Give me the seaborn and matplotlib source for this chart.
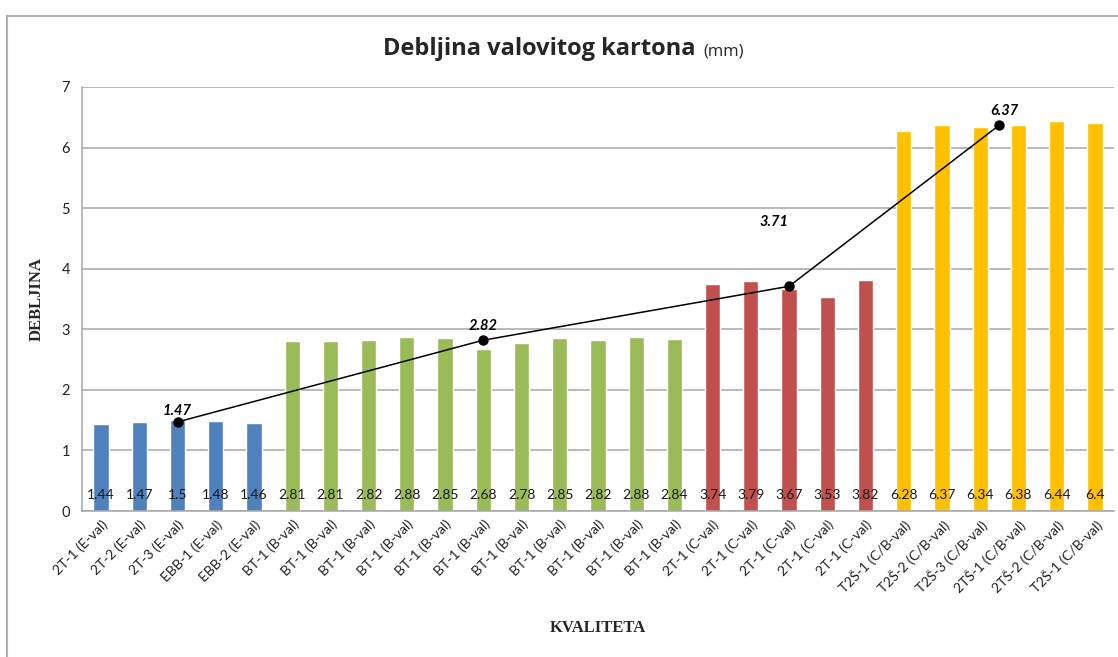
#!/usr/bin/env python3
# -*- coding: utf-8 -*-

"""Debljina valovitog kartona - stupci po kvaliteti i prosjek po grupi."""

import pandas as pd
import matplotlib.pyplot as plt
import seaborn as sns
from matplotlib.patches import Rectangle

# podaci
kvalitete = [
    "2T-1 (E-val)", "2T-2 (E-val)", "2T-3 (E-val)", "EBB-1 (E-val)", "EBB-2 (E-val)",
    "BT-1 (B-val)", "BT-1 (B-val) ", "BT-1 (B-val)  ", "BT-1 (B-val)   ", "BT-1 (B-val)    ",
    "BT-1 (B-val)     ", "BT-1 (B-val)      ", "BT-1 (B-val)       ", "BT-1 (B-val)        ",
    "BT-1 (B-val)         ", "BT-1 (B-val)          ",
    "2T-1 (C-val)", "2T-1 (C-val) ", "2T-1 (C-val)  ", "2T-1 (C-val)   ", "2T-1 (C-val)    ",
    "T2Š-1 (C/B-val)", "T2Š-2 (C/B-val)", "T2Š-3 (C/B-val)", "2TŠ-1 (C/B-val)",
    "2TŠ-2 (C/B-val)", "T2Š-1 (C/B-val) ",
]
debljina = [1.44, 1.47, 1.5, 1.48, 1.46,
            2.81, 2.81, 2.82, 2.88, 2.85, 2.68, 2.78, 2.85, 2.82, 2.88, 2.84,
            3.74, 3.79, 3.67, 3.53, 3.82,
            6.28, 6.37, 6.34, 6.38, 6.44, 6.4]
grupa = ["E"] * 5 + ["B"] * 11 + ["C"] * 5 + ["CB"] * 6

grupe = ["E", "B", "C", "CB"]
prosjek = [1.47, 2.82, 3.71, 6.37]
boje = {"E": "#4F81BD", "B": "#9BBB59", "C": "#C0504D", "CB": "#FFC000"}

df = pd.DataFrame({"kvaliteta": kvalitete, "debljina": debljina, "grupa": grupa})

sns.set_style("white")
plt.rcParams["font.family"] = ["Lato", "DejaVu Sans"]

fig = plt.figure(figsize=(11.18, 6.57), dpi=100)
ax = fig.add_axes([0.0733, 0.2222, 0.9231, 0.6454])

# okvir grafikona
fig.patches.append(Rectangle((7 / 1118, -0.05), 1.2, 1 - 16 / 657 + 0.05,
                             transform=fig.transFigure, fill=False,
                             edgecolor="#b0b0b0", linewidth=1.5, zorder=0))

sns.barplot(data=df, x="kvaliteta", y="debljina", hue="grupa", palette=boje,
            dodge=False, width=0.4, saturation=1, legend=False, ax=ax, zorder=2)

# vrijednosti na dnu stupaca
for i, v in enumerate(debljina):
    ax.text(i, 0.27, f"{v:g}", ha="center", va="center", fontsize=10,
            color="#1a1a1a", zorder=4)

# prosjek grupe - točka u sredini grupe
sredine = df.reset_index().groupby("grupa", sort=False)["index"].mean().reindex(grupe)
ax.plot(sredine.values, prosjek, color="black", linewidth=1.1, marker="o",
        markersize=6.5, zorder=5)
pomaci = [(0, 8), (0, 10), (-11, 46), (4, 10)]
for x, y, (dx, dy) in zip(sredine.values, prosjek, pomaci):
    ax.annotate(f"{y:g}", (x, y), xytext=(dx, dy), textcoords="offset points",
                ha="center", va="center", fontsize=10.5, fontweight="bold",
                fontstyle="italic", color="black", zorder=6)

ax.set_xlim(-0.5, len(kvalitete) - 0.5)
ax.set_ylim(0, 7)
ax.set_yticks(range(0, 8))
ax.grid(axis="y", color="#a6a6a6", linewidth=1.1, zorder=0)
ax.set_axisbelow(True)
for s in ["top", "right"]:
    ax.spines[s].set_visible(False)
for s in ["left", "bottom"]:
    ax.spines[s].set_color("#a6a6a6")
    ax.spines[s].set_linewidth(1.1)
ax.tick_params(axis="y", length=5, color="#a6a6a6", labelsize=10.5, labelcolor="#222222")
ax.tick_params(axis="x", length=0, labelsize=10, labelcolor="#222222", pad=5)
ax.set_xticks(range(len(kvalitete)))
ax.set_xticklabels([k.strip() for k in kvalitete], rotation=45, ha="right",
                   rotation_mode="anchor")

ax.set_xlabel("KVALITETA", fontfamily="Liberation Serif", fontweight="bold",
              fontsize=12, labelpad=18)
ax.set_ylabel("DEBLJINA", fontfamily="Liberation Serif", fontweight="bold",
              fontsize=12, labelpad=12)

# naslov
fig.text(0.6217, 0.926, "Debljina valovitog kartona", ha="right", va="center",
         fontsize=17, fontweight="bold", fontfamily="Open Sans")
fig.text(0.629, 0.922, "(mm)", ha="left", va="center", fontsize=12,
         fontfamily="Open Sans")

fig.savefig("out.png", dpi=100)
